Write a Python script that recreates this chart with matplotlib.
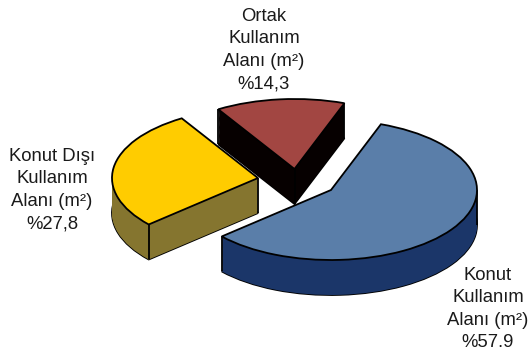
import numpy as np
import matplotlib
matplotlib.use('Agg')
import matplotlib.pyplot as plt

# Data
SHARES      = [57.9, 27.8, 14.3]
TOP_COLORS  = ['#5A7EA9', '#FFCC00', '#A24642']
SIDE_COLORS = ['#1B3669', '#85752F', '#060000']
LABELS = ['Konut\nKullanım\nAlanı (m²)\n%57.9',
          'Konut Dışı\nKullanım\nAlanı (m²)\n%27,8',
          'Ortak\nKullanım\nAlanı (m²)\n%14,3']

# Layout (one data unit = radius of the pie)
W, H    = 530, 351
PX_X    = 146.0
PX_Y    = 70.0
ORIGIN  = (331.0, 190.0)
APEX    = [(0.0, 0.0), (-0.50, 0.171), (-0.25, 0.30)]
DEPTH   = 35.0 / PX_Y
LAYERS  = 40
ORDER   = [2, 0, 1]
LABEL_XY = [(488, 309), (52, 190), (264, 50)]
EDGE    = 1.3

plt.rcParams['font.family'] = ['Liberation Sans', 'DejaVu Sans']

fig = plt.figure(figsize=(W / 100, H / 100), dpi=100)
ax = fig.add_axes([0, 0, 1, 1])


def draw_pie(colors, dy, zbase, lw):
    # one flat pie, slices moved to their own apex
    wedges, _ = ax.pie(SHARES, colors=colors, startangle=70, counterclock=False,
                       wedgeprops={'edgecolor': 'black' if lw > 0 else 'none', 'linewidth': lw})
    for i, w in enumerate(wedges):
        w.set_center((APEX[i][0], APEX[i][1] - dy))
        w.set_zorder(zbase + ORDER.index(i) * 10)
    return wedges


# side walls: bottom outline, then a stack of plain copies
draw_pie(SIDE_COLORS, DEPTH, 1.0, EDGE)
for k, dy in enumerate(np.linspace(DEPTH, 0, LAYERS)):
    draw_pie(SIDE_COLORS, dy, 1.1 + k * 0.05, 0)
tops = draw_pie(TOP_COLORS, 0, 5.0, EDGE)

# vertical edges at the corners and the outer tangents
for i, w in enumerate(tops):
    cx, cy = w.center
    angles = [w.theta1, w.theta2]
    for a in (0, 180):
        if w.theta1 <= a <= w.theta2 or w.theta1 <= a + 360 <= w.theta2:
            angles.append(a)
    xs = [cx] + [cx + np.cos(np.radians(a)) for a in angles]
    ys = [cy] + [cy + np.sin(np.radians(a)) for a in angles]
    for x, y in zip(xs, ys):
        ax.plot([x, x], [y, y - DEPTH], color='black', lw=EDGE,
                zorder=4.5 + ORDER.index(i) * 10, solid_capstyle='butt')

ax.set_aspect('auto')
ax.set_xlim(-ORIGIN[0] / PX_X, (W - ORIGIN[0]) / PX_X)
ax.set_ylim((ORIGIN[1] - H) / PX_Y, ORIGIN[1] / PX_Y)
ax.axis('off')

for text, (x, y) in zip(LABELS, LABEL_XY):
    fig.text(x / W, 1 - y / H, text, ha='center', va='center', fontsize=13.3,
             linespacing=1.415, color='#1a1a1a')

fig.savefig('out.png', dpi=100)
